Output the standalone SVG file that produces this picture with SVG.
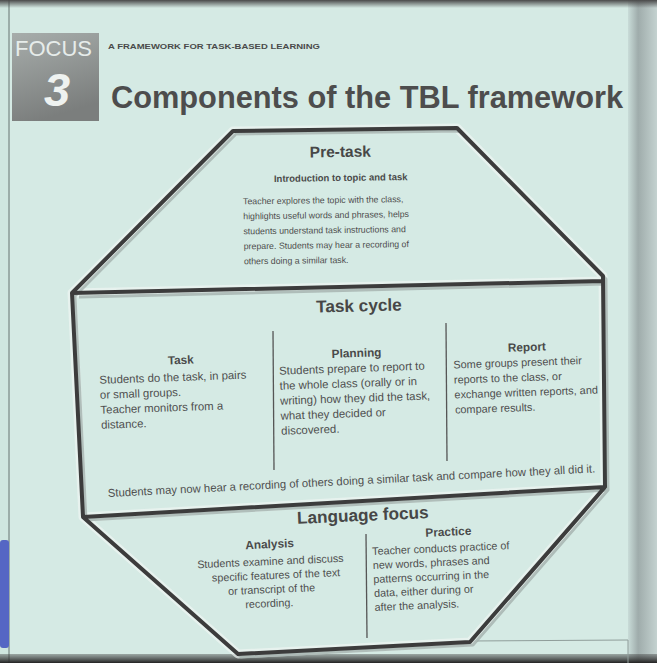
<svg xmlns="http://www.w3.org/2000/svg" width="657" height="663" viewBox="0 0 657 663">
<defs>
<linearGradient id="focusG" x1="0" y1="0" x2="0.3" y2="1">
<stop offset="0" stop-color="#a7adab"/>
<stop offset="1" stop-color="#7b7e7d"/>
</linearGradient>
<linearGradient id="edgeG" x1="0" y1="0" x2="1" y2="0">
<stop offset="0" stop-color="#c9dcd8"/>
<stop offset="0.35" stop-color="#9facab"/>
<stop offset="1" stop-color="#c4d2d0"/>
</linearGradient>
<linearGradient id="topG" x1="0" y1="0" x2="0" y2="1">
<stop offset="0" stop-color="#4a4a4a"/>
<stop offset="1" stop-color="#4a4a4a" stop-opacity="0"/>
</linearGradient>
<linearGradient id="botG" x1="0" y1="0" x2="0" y2="1">
<stop offset="0" stop-color="#444" stop-opacity="0.4"/>
<stop offset="1" stop-color="#222"/>
</linearGradient>
</defs>
<style>
.t{font-family:"Liberation Sans",Arial,sans-serif;fill:#4e4e4e;font-size:8.8px}
.tc{font-family:"Liberation Sans",Arial,sans-serif;fill:#4e4e4e;font-size:11.4px}
.lf{font-family:"Liberation Sans",Arial,sans-serif;fill:#4e4e4e;font-size:10.8px}
.h{font-family:"Liberation Sans",Arial,sans-serif;font-weight:bold;fill:#474747;font-size:15.5px;text-anchor:middle}
.hb{font-family:"Liberation Sans",Arial,sans-serif;font-weight:bold;fill:#474747;font-size:17.2px;text-anchor:middle}
.sh{font-family:"Liberation Sans",Arial,sans-serif;font-weight:bold;fill:#4a4a4a;font-size:9.5px;text-anchor:middle}
.sh2{font-family:"Liberation Sans",Arial,sans-serif;font-weight:bold;fill:#4a4a4a;font-size:11.8px;text-anchor:middle}
.halo{fill:none;stroke:#eef5f2;stroke-width:9;stroke-linejoin:round;opacity:0.7}
.shadow{fill:none;stroke:#a3b0ad;stroke-width:3;stroke-linejoin:round;opacity:0.8}
.edge{fill:none;stroke:#3c3c3c;stroke-width:4;stroke-linejoin:round;stroke-linecap:round}
.div{stroke:#555;stroke-width:1.3}
</style>

<!-- page background -->
<rect x="0" y="0" width="657" height="663" fill="#d5eae4"/>
<rect x="0" y="0" width="10" height="663" fill="#cfe6df"/>
<line x1="9" y1="0" x2="9" y2="663" stroke="#8a9a96" stroke-width="1.5"/>
<rect x="0" y="540" width="9" height="108" rx="3" fill="#5566c4"/>
<rect x="628" y="0" width="29" height="663" fill="url(#edgeG)"/>
<rect x="0" y="0" width="657" height="8" fill="url(#topG)"/>
<rect x="0" y="654" width="657" height="9" fill="url(#botG)"/>
<line x1="470" y1="641" x2="628" y2="640" stroke="#8f9d9a" stroke-width="1"/>
<line x1="628" y1="640" x2="628" y2="663" stroke="#8f9d9a" stroke-width="1"/>

<g id="header">
<rect x="12" y="33" width="87" height="88" fill="url(#focusG)"/>
<text x="15" y="56" font-family="'Liberation Sans',Arial,sans-serif" font-size="22" fill="#e6ecea" textLength="77" lengthAdjust="spacingAndGlyphs">FOCUS</text>
<text x="57" y="106" font-family="'Liberation Sans',Arial,sans-serif" font-size="47" font-weight="bold" font-style="italic" fill="#eef2f0" text-anchor="middle">3</text>
<text x="108" y="49" font-family="'Liberation Sans',Arial,sans-serif" font-size="7.5" font-weight="bold" fill="#4a4a4a" textLength="212" lengthAdjust="spacingAndGlyphs">A FRAMEWORK FOR TASK-BASED LEARNING</text>
<text x="111" y="108" font-family="'Liberation Sans',Arial,sans-serif" font-size="31" font-weight="bold" fill="#4d4d4d" textLength="512" lengthAdjust="spacingAndGlyphs">Components of the TBL framework</text>
</g>

<g id="outline">
<path class="halo" d="M72,293 L233,131 L457,128 L603,276 L605,487 L470,642 L238,654 L83,517 Z M72,293 L603,281 M83,517 L605,487"/>
<path class="shadow" transform="translate(3,3)" d="M72,293 L233,131 L457,128 L603,276 L605,487 L470,642 L238,654 L83,517 Z M76,294 L603,281 M83,517 L605,487"/>
<path class="edge" d="M72,293 L233,131 L457,128 L603,276 L605,487 L470,642 L238,654 L83,517 Z M72,293 L603,281 M83,517 L605,487"/>
</g>

<g id="pretask" transform="rotate(-0.8 341 200)">
<text class="h" x="341" y="157">Pre-task</text>
<text class="sh" x="341" y="181">Introduction to topic and task</text>
<text class="t" x="243" y="203">Teacher explores the topic with the class,</text>
<text class="t" x="243" y="218">highlights useful words and phrases, helps</text>
<text class="t" x="243" y="233">students understand task instructions and</text>
<text class="t" x="243" y="248">prepare. Students may hear a recording of</text>
<text class="t" x="243" y="263">others doing a similar task.</text>
</g>

<g id="taskcycle">
<g transform="rotate(-1.4 340 310)">
<text class="hb" x="359" y="312">Task cycle</text>
</g>
<g id="task" transform="rotate(-2 180 395)">
<text class="sh2" x="182" y="364">Task</text>
<text class="tc" x="100" y="381">Students do the task, in pairs</text>
<text class="tc" x="100" y="396">or small groups.</text>
<text class="tc" x="100" y="411">Teacher monitors from a</text>
<text class="tc" x="100" y="426">distance.</text>
</g>
<g id="planning" transform="rotate(-2 358 395)">
<text class="sh2" x="358" y="357">Planning</text>
<text class="tc" x="280" y="372">Students prepare to report to</text>
<text class="tc" x="280" y="387">the whole class (orally or in</text>
<text class="tc" x="280" y="402">writing) how they did the task,</text>
<text class="tc" x="280" y="417">what they decided or</text>
<text class="tc" x="280" y="432">discovered.</text>
</g>
<g id="report" transform="rotate(-2 528 380)">
<text class="sh2" x="528" y="351">Report</text>
<text class="tc" x="454" y="366" style="font-size:10.9px">Some groups present their</text>
<text class="tc" x="454" y="381" style="font-size:10.9px">reports to the class, or</text>
<text class="tc" x="454" y="396" style="font-size:10.9px">exchange written reports, and</text>
<text class="tc" x="454" y="411" style="font-size:10.9px">compare results.</text>
</g>
<g transform="rotate(-2.9 108 497)">
<text class="tc" x="108" y="497" textLength="488" lengthAdjust="spacingAndGlyphs">Students may now hear a recording of others doing a similar task and compare how they all did it.</text>
</g>
</g>

<g id="languagefocus">
<g transform="rotate(-2.5 363 519)">
<text class="hb" x="363" y="521">Language focus</text>
</g>
<g id="analysis" transform="rotate(-2.5 272 575)">
<text class="sh2" x="271" y="548">Analysis</text>
<text class="lf" x="271" y="565" text-anchor="middle">Students examine and discuss</text>
<text class="lf" x="276" y="579" text-anchor="middle">specific features of the text</text>
<text class="lf" x="271" y="593" text-anchor="middle">or transcript of the</text>
<text class="lf" x="268" y="607" text-anchor="middle">recording.</text>
</g>
<g id="practice" transform="rotate(-2.5 420 570)">
<text class="sh2" x="450" y="537">Practice</text>
<text class="lf" x="373" y="553">Teacher conducts practice of</text>
<text class="lf" x="373" y="567">new words, phrases and</text>
<text class="lf" x="373" y="581">patterns occurring in the</text>
<text class="lf" x="373" y="595">data, either during or</text>
<text class="lf" x="373" y="609">after the analysis.</text>
</g>
</g>

<g id="dividers">
<line class="div" x1="273" y1="331" x2="274" y2="470"/>
<line class="div" x1="446" y1="323" x2="447" y2="461"/>
<line class="div" x1="366" y1="534" x2="367" y2="638"/>
</g>
</svg>
